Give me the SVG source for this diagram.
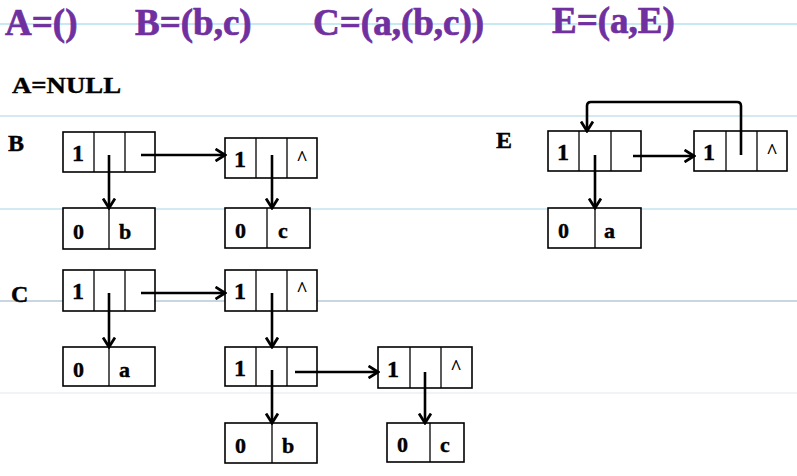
<svg xmlns="http://www.w3.org/2000/svg" width="797" height="476" viewBox="0 0 797 476">
<style>
.title{font-family:"Liberation Serif",serif;font-weight:bold;font-size:37px;fill:#7030A0;stroke:#7030A0;stroke-width:0.7}
.lbl{font-family:"Liberation Serif",serif;font-weight:bold;font-size:24px;fill:#000;stroke:#000;stroke-width:0.4}
.t{font-family:"Liberation Serif",serif;font-weight:bold;font-size:24px;fill:#000;stroke:#000;stroke-width:0.4}
.a{font-family:"Liberation Serif",serif;font-weight:bold;font-size:22px;fill:#000;stroke:#000;stroke-width:0.4}
.car{font-family:"Liberation Serif",serif;font-weight:bold;font-size:20px;fill:#000;text-anchor:middle}
.box{fill:#fff;stroke:#000;stroke-width:1.6}
.div{stroke:#000;stroke-width:1.3}
.con{stroke:#000;stroke-width:2.6;fill:none;marker-end:url(#arr)}
.rule{stroke-width:1.2}
</style>
<defs>
<marker id="arr" viewBox="0 0 12 14" markerUnits="userSpaceOnUse" markerWidth="12" markerHeight="14" refX="10.5" refY="7" orient="auto">
<path d="M1,1 L10.5,7 L1,13" fill="none" stroke="#000" stroke-width="2.8"/>
</marker>
</defs>
<rect width="797" height="476" fill="#fff"/>
<g id="rules">
<line class="rule" x1="0" y1="24" x2="797" y2="24" stroke="#8ED3E8"/>
<line class="rule" x1="0" y1="116" x2="797" y2="116" stroke="#A9D6E5"/>
<line class="rule" x1="0" y1="209" x2="797" y2="209" stroke="#A9D6E5"/>
<line class="rule" x1="0" y1="301" x2="797" y2="301" stroke="#8FAEC0"/>
<line class="rule" x1="0" y1="393" x2="797" y2="393" stroke="#E1E9EE"/>
</g>
<g id="titles">
<text class="title" x="5" y="35">A=()</text>
<text class="title" x="135" y="35">B=(b,c)</text>
<text class="title" x="313" y="35">C=(a,(b,c))</text>
<text class="title" x="552" y="33">E=(a,E)</text>
<text class="lbl" x="12" y="93" font-size="26" textLength="109" lengthAdjust="spacingAndGlyphs">A=NULL</text>
<text class="lbl" x="8" y="151">B</text>
<text class="lbl" x="496" y="148">E</text>
<text class="lbl" x="11" y="302">C</text>
</g>
<!-- B list -->
<g id="B1"><rect class="box" x="63" y="132" width="92" height="40"/><line class="div" x1="94" y1="132" x2="94" y2="172"/><line class="div" x1="125" y1="132" x2="125" y2="172"/><text class="t" x="72" y="161">1</text></g>
<g id="B2"><rect class="box" x="225" y="138" width="92" height="40"/><line class="div" x1="256" y1="138" x2="256" y2="178"/><line class="div" x1="287" y1="138" x2="287" y2="178"/><text class="t" x="234" y="167">1</text><text class="car" x="302" y="165">^</text></g>
<g id="Bb"><rect class="box" x="63" y="208" width="92" height="41"/><line class="div" x1="109" y1="208" x2="109" y2="249"/><text class="a" x="73" y="239">0</text><text class="a" x="119" y="239">b</text></g>
<g id="Bc"><rect class="box" x="225" y="208" width="85" height="40" stroke-width="2"/><line class="div" x1="267" y1="208" x2="267" y2="248"/><text class="a" x="235" y="238">0</text><text class="a" x="278" y="238">c</text></g>
<!-- E list -->
<g id="E1"><rect class="box" x="548" y="131" width="93" height="40"/><line class="div" x1="579" y1="131" x2="579" y2="171"/><line class="div" x1="611" y1="131" x2="611" y2="171"/><text class="t" x="557" y="160">1</text></g>
<g id="E2"><rect class="box" x="694" y="131" width="93" height="40"/><line class="div" x1="726" y1="131" x2="726" y2="171"/><line class="div" x1="757" y1="131" x2="757" y2="171"/><text class="t" x="703" y="160">1</text><text class="car" x="772" y="158">^</text></g>
<g id="Ea"><rect class="box" x="548" y="208" width="93" height="40"/><line class="div" x1="595" y1="208" x2="595" y2="248"/><text class="a" x="558" y="238">0</text><text class="a" x="604" y="238">a</text></g>
<!-- C list -->
<g id="C1"><rect class="box" x="63" y="270" width="92" height="41"/><line class="div" x1="94" y1="270" x2="94" y2="311"/><line class="div" x1="125" y1="270" x2="125" y2="311"/><text class="t" x="72" y="299">1</text></g>
<g id="C2"><rect class="box" x="225" y="270" width="92" height="41"/><line class="div" x1="256" y1="270" x2="256" y2="311"/><line class="div" x1="287" y1="270" x2="287" y2="311"/><text class="t" x="234" y="299">1</text><text class="car" x="302" y="296">^</text></g>
<g id="Ca"><rect class="box" x="63" y="347" width="92" height="39"/><line class="div" x1="109" y1="347" x2="109" y2="386"/><text class="a" x="73" y="377">0</text><text class="a" x="119" y="377">a</text></g>
<g id="C3"><rect class="box" x="225" y="347" width="92" height="39"/><line class="div" x1="256" y1="347" x2="256" y2="386"/><line class="div" x1="287" y1="347" x2="287" y2="386"/><text class="t" x="234" y="376">1</text></g>
<g id="C4"><rect class="box" x="378" y="347" width="94" height="41" stroke-width="2"/><line class="div" x1="410" y1="347" x2="410" y2="388"/><line class="div" x1="441" y1="347" x2="441" y2="388"/><text class="t" x="387" y="377">1</text><text class="car" x="456" y="374">^</text></g>
<g id="Cb"><rect class="box" x="225" y="423" width="92" height="40"/><line class="div" x1="272" y1="423" x2="272" y2="463"/><text class="a" x="235" y="453">0</text><text class="a" x="282" y="453">b</text></g>
<g id="Cc"><rect class="box" x="387" y="423" width="77" height="39" stroke-width="2"/><line class="div" x1="430" y1="423" x2="430" y2="462"/><text class="a" x="397" y="452">0</text><text class="a" x="440" y="452">c</text></g>
<g id="connectors">
<line class="con" x1="109" y1="155" x2="109" y2="208"/>
<line class="con" x1="141" y1="155" x2="225" y2="155"/>
<line class="con" x1="272" y1="155" x2="272" y2="208"/>
<line class="con" x1="633" y1="156" x2="694" y2="156"/>
<line class="con" x1="595" y1="155" x2="595" y2="208"/>
<path class="con" d="M741,155 V106 Q741,102 737,102 H591 Q587,102 587,106 V131"/>
<line class="con" x1="141" y1="293" x2="225" y2="293"/>
<line class="con" x1="109" y1="293" x2="109" y2="347"/>
<line class="con" x1="272" y1="293" x2="272" y2="347"/>
<line class="con" x1="272" y1="370" x2="272" y2="423"/>
<line class="con" x1="295" y1="372" x2="378" y2="372"/>
<line class="con" x1="425" y1="372" x2="425" y2="423"/>
</g>
</svg>
